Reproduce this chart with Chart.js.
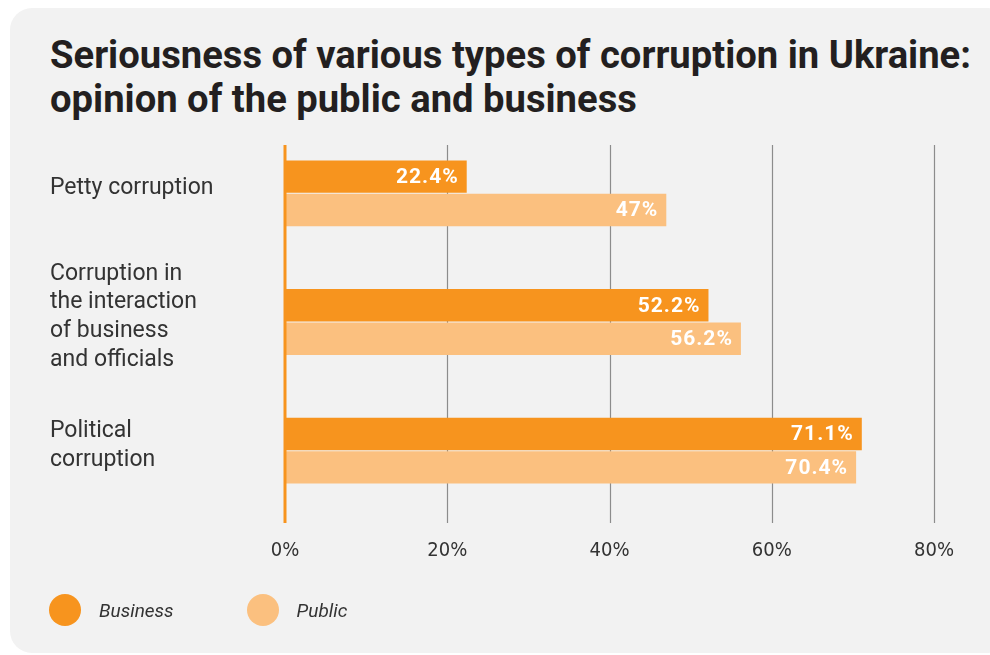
<!DOCTYPE html>
<html>
<head>
<meta charset="utf-8">
<script src="https://cdn.jsdelivr.net/npm/chart.js@4"></script>
<style>
    html, body { margin: 0; padding: 0; background: #ffffff; overflow: hidden; }
    .card {
        position: absolute; left: 10px; top: 8px; width: 1000px; height: 645px;
        background: #f2f2f2; border-radius: 22px;
    }
    .wrap { position: absolute; left: 0; top: 0; width: 990px; height: 655px; }
    h1 {
        position: absolute; left: 50px; top: 33px; margin: 0; white-space: nowrap;
        font-family: Roboto, sans-serif; font-weight: bold; font-size: 38.2px; line-height: 44px;
        color: #231f20;
    }
    #legend {
        position: absolute; left: 49px; top: 594px; height: 32px;
        display: flex; align-items: center;
        font-family: Roboto, sans-serif; font-style: italic; font-size: 19px; color: #333333;
    }
    #legend .item { display: flex; align-items: center; margin-right: 73px; }
    #legend .dot { width: 32px; height: 32px; border-radius: 50%; margin-right: 18px; }
</style>
</head>
<body>
<div class="card"></div>
<h1>Seriousness of various types of corruption in Ukraine:<br>opinion of the public and business</h1>
<div class="wrap"><canvas id="chart" width="990" height="655"></canvas></div>
<div id="legend"></div>
<script>
/* Seriousness of corruption in Ukraine — public vs business */

const categories = [
    ['Petty corruption'],
    ['Corruption in', 'the interaction', 'of business', 'and officials'],
    ['Political', 'corruption']
];
const seriesNames = ['Business', 'Public'];
const businessValues = [22.4, 52.2, 71.1];
const publicValues = [47, 56.2, 70.4];
const xTicks = [0, 20, 40, 60, 80];

const ORANGE = '#f7941e';
const LIGHT = '#fbc07f';

// gridlines run a bit past the category band, like the original
const gridPlugin = {
    id: 'gridLines',
    beforeDatasetsDraw(chart) {
        const { ctx, chartArea, scales } = chart;
        ctx.save();
        ctx.strokeStyle = '#8c8c8c';
        ctx.lineWidth = 1.2;
        xTicks.forEach(v => {
            if (v === 0) return;
            const x = Math.round(scales.x.getPixelForValue(v)) + 0.5;
            ctx.beginPath();
            ctx.moveTo(x, chartArea.top + 16);
            ctx.lineTo(x, chartArea.bottom + 8);
            ctx.stroke();
        });
        ctx.restore();
    },
    afterDatasetsDraw(chart) {
        const { ctx, chartArea, scales } = chart;
        ctx.save();
        ctx.strokeStyle = ORANGE;
        ctx.lineWidth = 3;
        const x = scales.x.getPixelForValue(0);
        ctx.beginPath();
        ctx.moveTo(x, chartArea.top + 16);
        ctx.lineTo(x, chartArea.bottom + 8);
        ctx.stroke();

        // value labels inside bar ends
        ctx.fillStyle = '#ffffff';
        ctx.font = 'bold 21px Roboto, sans-serif';
        ctx.textAlign = 'right';
        ctx.textBaseline = 'middle';
        if ('letterSpacing' in ctx) ctx.letterSpacing = '1px';
        chart.data.datasets.forEach((ds, i) => {
            chart.getDatasetMeta(i).data.forEach((bar, j) => {
                ctx.fillText(ds.data[j] + '%', bar.x - 8, bar.y + 1);
            });
        });
        ctx.restore();
    }
};

const chart = new Chart(document.getElementById('chart'), {
    type: 'bar',
    data: {
        labels: categories,
        datasets: [
            {
                label: seriesNames[0],
                data: businessValues,
                backgroundColor: ORANGE,
                barPercentage: 0.97,
                categoryPercentage: 0.52
            },
            {
                label: seriesNames[1],
                data: publicValues,
                backgroundColor: LIGHT,
                barPercentage: 0.97,
                categoryPercentage: 0.52
            }
        ]
    },
    options: {
        indexAxis: 'y',
        responsive: false,
        animation: false,
        layout: { padding: { left: 50, right: 56, top: 129, bottom: 68 } },
        scales: {
            x: {
                min: 0,
                max: 80,
                afterBuildTicks: scale => { scale.ticks = xTicks.map(v => ({ value: v })); },
                grid: { display: false, drawTicks: false },
                border: { display: false },
                ticks: {
                    color: '#333333',
                    padding: 24,
                    font: { family: '"DejaVu Sans Condensed", "Liberation Sans Narrow", Roboto, sans-serif', size: 20 },
                    callback: v => v + '%'
                }
            },
            y: {
                afterFit: scale => { scale.width = 235; },
                grid: { display: false, drawTicks: false },
                border: { display: false },
                ticks: {
                    color: '#333333',
                    crossAlign: 'far',
                    labelOffset: -5,
                    padding: 0,
                    font: { family: 'Roboto, sans-serif', size: 23, lineHeight: 1.25 }
                }
            }
        },
        plugins: {
            legend: { display: false },
            tooltip: { enabled: false },
            title: { display: false }
        }
    },
    plugins: [gridPlugin]
});

// html legend built from the datasets
const legendEl = document.getElementById('legend');
chart.data.datasets.forEach(ds => {
    const item = document.createElement('div');
    item.className = 'item';
    const dot = document.createElement('span');
    dot.className = 'dot';
    dot.style.background = ds.backgroundColor;
    const txt = document.createElement('span');
    txt.textContent = ds.label;
    item.appendChild(dot);
    item.appendChild(txt);
    legendEl.appendChild(item);
});
</script>
</body>
</html>
